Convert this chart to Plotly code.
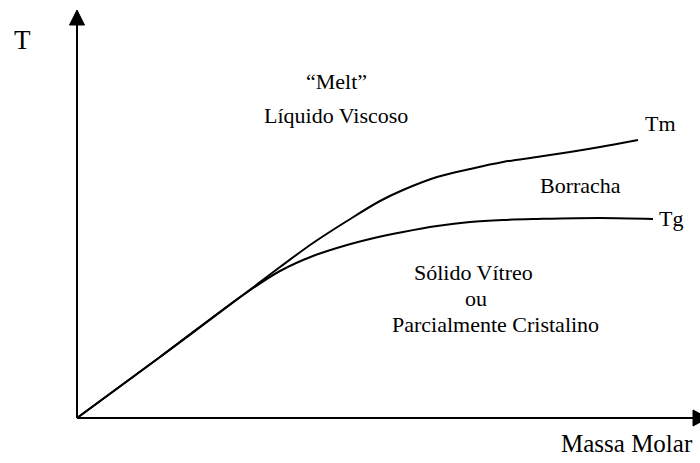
import plotly.graph_objects as go

# Curves (arbitrary units: molar mass vs temperature)
tm_x = [0, 83, 166, 203, 236, 270, 303, 326, 360, 393, 426, 460, 493, 523, 561]
tm_y = [0, 61, 123, 151, 175, 197, 217, 228, 241, 249, 256, 261, 266, 271, 278]

tg_x = [0, 83, 166, 203, 236, 270, 293, 326, 360, 393, 426, 460, 523, 576]
tg_y = [0, 61, 123, 147, 162, 173, 179, 186, 192, 196, 198, 199, 200, 199]

FONT = "Liberation Serif, Times New Roman, serif"

fig = go.Figure()
fig.add_trace(go.Scatter(x=tm_x, y=tm_y, mode="lines",
                         line=dict(color="black", width=2, shape="spline", smoothing=1.0),
                         hoverinfo="skip", showlegend=False))
fig.add_trace(go.Scatter(x=tg_x, y=tg_y, mode="lines",
                         line=dict(color="black", width=2, shape="spline", smoothing=1.0),
                         hoverinfo="skip", showlegend=False))

# Axes with arrowheads
fig.add_shape(type="line", x0=0, y0=0, x1=0, y1=395, xref="x", yref="y",
              line=dict(color="black", width=2))
fig.add_shape(type="line", x0=0, y0=0, x1=618, y1=0, xref="x", yref="y",
              line=dict(color="black", width=2))
fig.add_shape(type="path", path="M -7.5,393 L 7.5,393 L 0,408 Z", xref="x", yref="y",
              fillcolor="black", line=dict(color="black", width=1))
fig.add_shape(type="path", path="M 616,8 L 616,-8 L 631,0 Z", xref="x", yref="y",
              fillcolor="black", line=dict(color="black", width=1))

W, H = 700, 463
def lab(text, px, py, size, xanchor="center"):
    fig.add_annotation(text=text, xref="paper", yref="paper",
                       x=px / W, y=1 - py / H, xanchor=xanchor, yanchor="middle",
                       showarrow=False, font=dict(family=FONT, size=size, color="black"))

lab("T", 22, 40, 27)
lab("\u201cMelt\u201d", 336, 82, 22)
lab("Líquido Viscoso", 336, 115, 22)
lab("Tm", 643, 123, 22, xanchor="left")
lab("Borracha", 580, 185, 22)
lab("Tg", 657, 218, 22, xanchor="left")
lab("Sólido Vítreo", 473, 272, 22)
lab("ou", 476, 298, 22)
lab("Parcialmente Cristalino", 495, 324, 22)
lab("Massa Molar", 627, 443, 25)

fig.update_layout(
    width=W, height=H,
    margin=dict(l=0, r=0, t=0, b=0),
    paper_bgcolor="white", plot_bgcolor="white",
    xaxis=dict(range=[-77, 623], visible=False, fixedrange=True),
    yaxis=dict(range=[-45, 418], visible=False, fixedrange=True),
    showlegend=False,
)

fig.write_html("out.html", config={"displayModeBar": False},
               post_script="document.body.style.margin='0';document.body.style.overflow='hidden';")
